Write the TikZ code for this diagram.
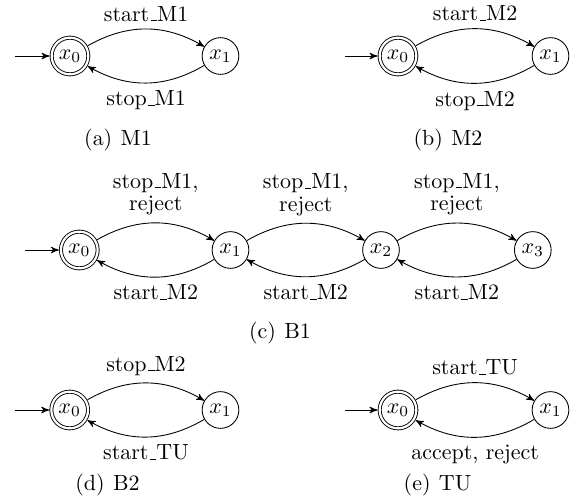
\documentclass[tikz,border=0pt]{standalone}
\usetikzlibrary{arrows}
\newcommand\usc{\leavevmode\kern.06em\vbox{\hrule width.3em}}
\begin{document}
\begin{tikzpicture}[x=0.455pt,y=-0.455pt,>=stealth',
  st/.style={circle,draw,line width=0.4pt,minimum size=16.7pt,inner sep=0pt},
  acc/.style={st,double,double distance=1pt,outer sep=1pt},
  tr/.style={->,line width=0.4pt},
  lbl/.style={align=center,font=\normalsize},
  capt/.style={inner sep=0pt}]
\useasboundingbox (0,0) rectangle (574,502);
% (a)
\node[acc] (a0) at (70,56) {$x_0$};
\node[st] (a1) at (220.5,56) {$x_1$};
\coordinate (ai) at (15,56);
\draw[tr] (ai) -- (a0);
\draw[tr] (a0) to[bend left=30] node[above] {start\usc M1} (a1);
\draw[tr] (a1) to[bend left=30] node[below] {stop\usc M1} (a0);
\node[capt] (capa) at (118,140) {(a)\hspace{3.8pt}M1};
% (b)
\node[acc] (b0) at (398,56) {$x_0$};
\node[st] (b1) at (550.5,56) {$x_1$};
\coordinate (bi) at (345,56);
\draw[tr] (bi) -- (b0);
\draw[tr] (b0) to[bend left=30] node[above] {start\usc M2} (b1);
\draw[tr] (b1) to[bend left=30] node[below] {stop\usc M2} (b0);
\node[capt] (capb) at (448,140) {(b)\hspace{3.8pt}M2};
% (c)
\node[acc] (c0) at (79.3,250) {$x_0$};
\node[st] (c1) at (230.5,250) {$x_1$};
\node[st] (c2) at (381,250) {$x_2$};
\node[st] (c3) at (532.8,250) {$x_3$};
\coordinate (ci) at (25,250);
\draw[tr] (ci) -- (c0);
\draw[tr] (c0) to[bend left=30] node[above,lbl] {stop\usc M1,\\[-1.7pt] reject} (c1);
\draw[tr] (c1) to[bend left=30] node[below] {start\usc M2} (c0);
\draw[tr] (c1) to[bend left=30] node[above,lbl] {stop\usc M1,\\[-1.7pt] reject} (c2);
\draw[tr] (c2) to[bend left=30] node[below] {start\usc M2} (c1);
\draw[tr] (c2) to[bend left=30] node[above,lbl] {stop\usc M1,\\[-1.7pt] reject} (c3);
\draw[tr] (c3) to[bend left=30] node[below] {start\usc M2} (c2);
\node[capt] (capc) at (280,333) {(c)\hspace{3.8pt}B1};
% (d)
\node[acc] (d0) at (69.7,410) {$x_0$};
\node[st] (d1) at (220.5,410) {$x_1$};
\coordinate (di) at (15,410);
\draw[tr] (di) -- (d0);
\draw[tr] (d0) to[bend left=30] node[above] {stop\usc M2} (d1);
\draw[tr] (d1) to[bend left=30] node[below] {start\usc TU} (d0);
\node[capt] (capd) at (107.5,485) {(d)\hspace{3.8pt}B2};
% (e)
\node[acc] (e0) at (398,410) {$x_0$};
\node[st] (e1) at (550.5,410) {$x_1$};
\coordinate (ei) at (345,410);
\draw[tr] (ei) -- (e0);
\draw[tr] (e0) to[bend left=30] node[above] {start\usc TU} (e1);
\draw[tr] (e1) to[bend left=30] node[below] {accept, reject} (e0);
\node[capt] (cape) at (437.5,485) {(e)\hspace{3.8pt}TU};
\end{tikzpicture}
\end{document}
